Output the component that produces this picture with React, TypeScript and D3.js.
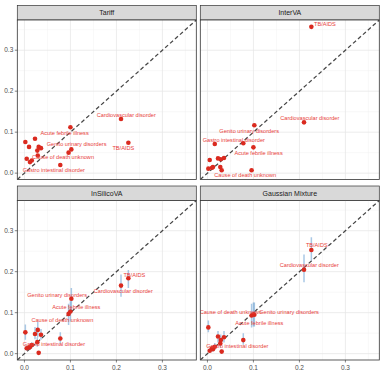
import React from 'react'
import * as d3 from 'd3'

// true vs estimated cause-specific mortality fractions
const causes = [
  'TB/AIDS',
  'Cardiovascular disorder',
  'Genito urinary disorders',
  'Acute febrile illness',
  'Cause of death unknown',
  'Gastro intestinal disorder',
  'Respiratory disorder',
  'Injuries',
  'Neoplasms',
  'Nutritional disorder',
  'Maternal causes',
  'Diabetes',
  'Neonatal causes',
  'Liver disorder',
  'Skin disorder',
  'Other infectious'
]
const labelled = [0, 1, 2, 3, 4, 5]

const trueCsmf = [0.226, 0.21, 0.102, 0.1, 0.096, 0.078, 0.036, 0.031, 0.029, 0.028, 0.023, 0.016, 0.012, 0.01, 0.005, 0.002]

const tariffEst = [0.074, 0.132, 0.058, 0.112, 0.05, 0.02, 0.061, 0.064, 0.043, 0.055, 0.084, 0.031, 0.027, 0.064, 0.035, 0.076]
const intervaEst = [0.357, 0.124, 0.117, 0.063, 0.007, 0.073, 0.037, 0.007, 0.034, 0.015, 0.036, 0.071, 0.015, 0.013, 0.032, 0.011]
const insilicoEst = [0.184, 0.166, 0.134, 0.103, 0.097, 0.037, 0.046, 0.002, 0.058, 0.028, 0.048, 0.021, 0.016, 0.015, 0.013, 0.052]
const insilicoLower = [0.16, 0.139, 0.105, 0.078, 0.07, 0.025, 0.034, 0.0, 0.04, 0.017, 0.035, 0.013, 0.01, 0.01, 0.007, 0.034]
const insilicoUpper = [0.204, 0.193, 0.16, 0.128, 0.122, 0.052, 0.06, 0.006, 0.078, 0.04, 0.065, 0.028, 0.022, 0.02, 0.02, 0.071]
const gaussEst = [0.253, 0.205, 0.095, 0.096, 0.093, 0.033, 0.04, 0.005, 0.033, 0.025, 0.042, 0.017, 0.011, 0.013, 0.007, 0.064]
const gaussLower = [0.227, 0.174, 0.066, 0.066, 0.064, 0.022, 0.027, 0.001, 0.022, 0.015, 0.027, 0.01, 0.005, 0.006, 0.002, 0.052]
const gaussUpper = [0.284, 0.242, 0.125, 0.125, 0.122, 0.05, 0.055, 0.01, 0.047, 0.036, 0.055, 0.026, 0.018, 0.02, 0.013, 0.081]

// repelled label spots (data units), same order as `labelled`
const tariffLabelX = [0.215, 0.2215, 0.1135, 0.0874, 0.084, 0.064]
const tariffLabelY = [0.061, 0.141, 0.07, 0.097, 0.039, 0.0066]
const intervaLabelX = [0.2554, 0.2226, 0.0907, 0.1113, 0.0823, 0.0574]
const intervaLabelY = [0.3636, 0.1345, 0.102, 0.048, -0.0049, 0.08]
const insilicoLabelX = [0.239, 0.215, 0.0711, 0.1128, 0.0824, 0.0642]
const insilicoLabelY = [0.1924, 0.1516, 0.1425, 0.1132, 0.0824, 0.0237]
const gaussLabelX = [0.2378, 0.2215, 0.1775, 0.1128, 0.0505, 0.065]
const gaussLabelY = [0.264, 0.2168, 0.1027, 0.075, 0.1027, 0.0196]

const majorTicks = [0, 0.1, 0.2, 0.3]
const minorTicks = [0.05, 0.15, 0.25, 0.35]
const tickLabels = ['0.0', '0.1', '0.2', '0.3']

const panels = [
  { title: 'Tariff', est: tariffEst, lo: null, hi: null, lx: tariffLabelX, ly: tariffLabelY },
  { title: 'InterVA', est: intervaEst, lo: null, hi: null, lx: intervaLabelX, ly: intervaLabelY },
  { title: 'InSilicoVA', est: insilicoEst, lo: insilicoLower, hi: insilicoUpper, lx: insilicoLabelX, ly: insilicoLabelY },
  { title: 'Gaussian Mixture', est: gaussEst, lo: gaussLower, hi: gaussUpper, lx: gaussLabelX, ly: gaussLabelY }
]

const font = '"Liberation Sans", Arial, Helvetica, sans-serif'

export default function App() {
  const width = 383,
    height = 371,
    colX = [17.3, 200.3],
    panelW = 179,
    stripTop = [5.5, 186],
    stripH = 14.5,
    panelH = 159.5,
    domain: [number, number] = [-0.0155, 0.3737]

  const x = d3.scaleLinear().domain(domain).range([0, panelW])
  const y = d3.scaleLinear().domain(domain).range([panelH, 0])

  return (
    <svg
      width={width}
      height={height}
      style={{ position: 'absolute', left: 0, top: 0, background: '#fff' }}
      fontFamily={font}>
      <defs>
        <clipPath id='panel-clip'>
          <rect x={0} y={0} width={panelW} height={panelH} />
        </clipPath>
      </defs>
      {panels.map((p, pi) => {
        const col = pi % 2,
          row = Math.floor(pi / 2),
          px = colX[col],
          sy = stripTop[row],
          py = sy + stripH
        return (
          <g key={p.title}>
            {/* strip */}
            <rect
              x={px}
              y={sy}
              width={panelW}
              height={stripH}
              fill='#D9D9D9'
              stroke='#333'
              strokeWidth={0.7}
            />
            <text
              x={px + panelW / 2}
              y={sy + stripH / 2}
              dy='0.35em'
              textAnchor='middle'
              fontSize={7}
              fill='#1A1A1A'>
              {p.title}
            </text>

            <g transform={`translate(${px},${py})`}>
              <rect width={panelW} height={panelH} fill='#fff' />
              {minorTicks.map(t => (
                <g key={'mn' + t}>
                  <line x1={x(t)} x2={x(t)} y1={0} y2={panelH} stroke='#F0F0F0' strokeWidth={0.45} />
                  <line x1={0} x2={panelW} y1={y(t)} y2={y(t)} stroke='#F0F0F0' strokeWidth={0.45} />
                </g>
              ))}
              {majorTicks.map(t => (
                <g key={'mj' + t}>
                  <line x1={x(t)} x2={x(t)} y1={0} y2={panelH} stroke='#E6E6E6' strokeWidth={0.75} />
                  <line x1={0} x2={panelW} y1={y(t)} y2={y(t)} stroke='#E6E6E6' strokeWidth={0.75} />
                </g>
              ))}

              <g clipPath='url(#panel-clip)'>
                <line
                  x1={x(domain[0])}
                  y1={y(domain[0])}
                  x2={x(domain[1])}
                  y2={y(domain[1])}
                  stroke='#474747'
                  strokeWidth={1.25}
                  strokeDasharray='4 2.6'
                />
                {p.lo &&
                  p.hi &&
                  trueCsmf.map((t, i) => (
                    <line
                      key={'e' + i}
                      x1={x(t)}
                      x2={x(t)}
                      y1={y(p.lo![i])}
                      y2={y(p.hi![i])}
                      stroke='#6FA3D4'
                      strokeOpacity={0.6}
                      strokeWidth={1.5}
                    />
                  ))}
                {trueCsmf.map((t, i) => (
                  <circle key={'p' + i} cx={x(t)} cy={y(p.est[i])} r={2.3} fill='#DA2A1F' />
                ))}
                {labelled.map((ci, li) => (
                  <text
                    key={'l' + ci}
                    x={x(p.lx[li])}
                    y={y(p.ly[li])}
                    dy='0.35em'
                    textAnchor='middle'
                    fontSize={5.6}
                    fill='#E8403A'>
                    {causes[ci]}
                  </text>
                ))}
              </g>

              <rect width={panelW} height={panelH} fill='none' stroke='#333' strokeWidth={0.8} />

              {col === 0 &&
                majorTicks.map((t, i) => (
                  <g key={'yt' + t}>
                    <line x1={-2.5} x2={0} y1={y(t)} y2={y(t)} stroke='#333' strokeWidth={0.6} />
                    <text
                      x={-4}
                      y={y(t)}
                      dy='0.35em'
                      textAnchor='end'
                      fontSize={6.5}
                      fill='#4D4D4D'>
                      {tickLabels[i]}
                    </text>
                  </g>
                ))}
              {row === 1 &&
                majorTicks.map((t, i) => (
                  <g key={'xt' + t}>
                    <line x1={x(t)} x2={x(t)} y1={panelH} y2={panelH + 2.5} stroke='#333' strokeWidth={0.6} />
                    <text
                      x={x(t)}
                      y={panelH + 7.5}
                      dy='0.35em'
                      textAnchor='middle'
                      fontSize={6.5}
                      fill='#4D4D4D'>
                      {tickLabels[i]}
                    </text>
                  </g>
                ))}
            </g>
          </g>
        )
      })}
    </svg>
  )
}
